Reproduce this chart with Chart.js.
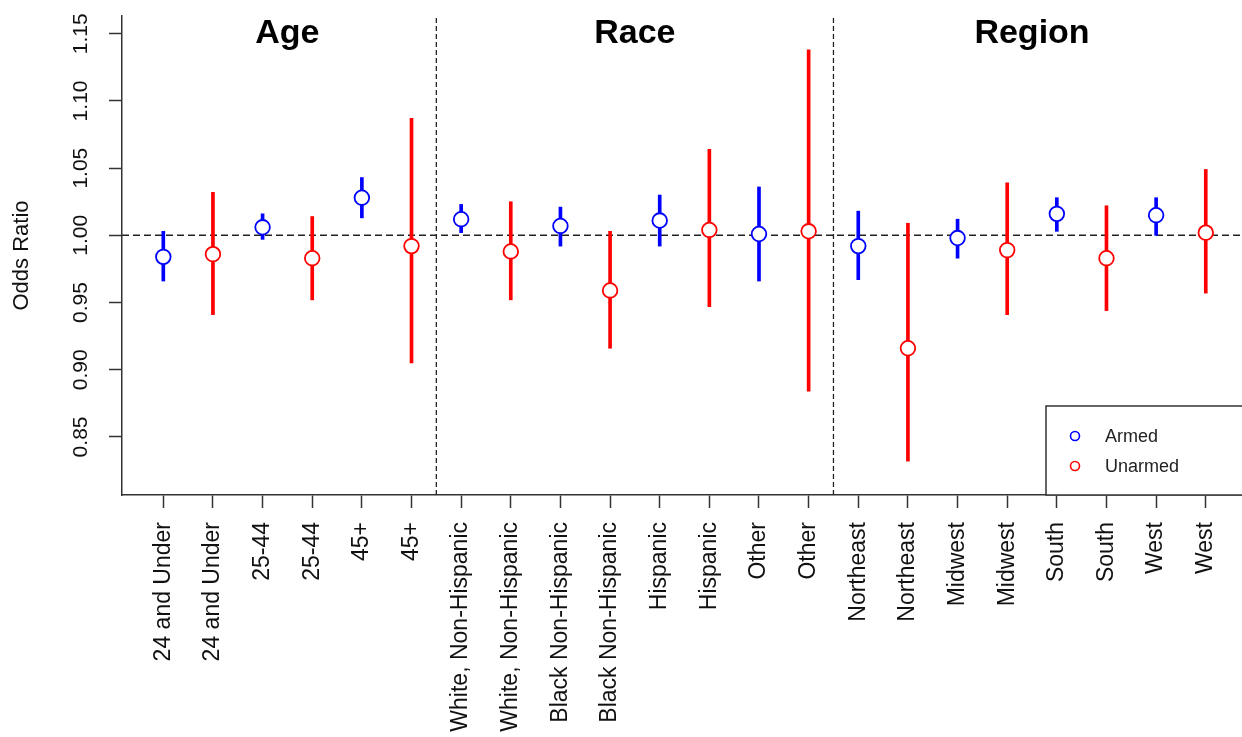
<!DOCTYPE html>
<html>
<head>
<meta charset="utf-8">
<script src="https://cdn.jsdelivr.net/npm/chart.js@4/dist/chart.umd.min.js"></script>
<style>
  html, body { margin: 0; padding: 0; background: #fff; }
  #wrap { width: 1242px; height: 737px; }
</style>
</head>
<body>
<div id="wrap"><canvas id="myChart" width="1242" height="737"></canvas></div>
<script>
// categories, one per x position (armed at odd, unarmed at even positions)
const xLabels = [
  "24 and Under", "24 and Under", "25-44", "25-44", "45+", "45+",
  "White, Non-Hispanic", "White, Non-Hispanic", "Black Non-Hispanic", "Black Non-Hispanic",
  "Hispanic", "Hispanic", "Other", "Other",
  "Northeast", "Northeast", "Midwest", "Midwest", "South", "South", "West", "West"
];
const groupNames = ["Age", "Race", "Region"];
const groupCenters = [3.5, 10.5, 18.5];
const groupBreaks = [6.5, 14.5];

const armedMid = [0.984, 1.006, 1.028, 1.012, 1.007, 1.011, 1.001, 0.992, 0.998, 1.016, 1.015];
const armedLow = [0.966, 0.997, 1.013, 1.002, 0.992, 0.992, 0.966, 0.967, 0.983, 1.003, 1.000];
const armedHigh = [1.003, 1.016, 1.043, 1.023, 1.021, 1.030, 1.036, 1.018, 1.012, 1.028, 1.028];

const unarmedMid = [0.986, 0.983, 0.992, 0.988, 0.959, 1.004, 1.003, 0.916, 0.989, 0.983, 1.002];
const unarmedLow = [0.941, 0.952, 0.905, 0.952, 0.916, 0.947, 0.884, 0.832, 0.941, 0.944, 0.957];
const unarmedHigh = [1.032, 1.014, 1.087, 1.025, 1.003, 1.064, 1.138, 1.009, 1.039, 1.022, 1.049];

const yTicks = [0.85, 0.90, 0.95, 1.00, 1.05, 1.10, 1.15];
const refValue = 1.0;

const X_MIN = 0.168, X_MAX = 22.73;
const Y_MIN = 0.8068, Y_MAX = 1.1632;
const BLUE = "#0000ff", RED = "#ff0000";
const FONT = "'Liberation Sans', Arial, Helvetica, sans-serif";

function points(mid, offset) {
  return mid.map((v, i) => ({ x: i * 2 + offset, y: v }));
}
function bars(low, high, offset) {
  return low.map((v, i) => ({ x: i * 2 + offset, y: [v, high[i]] }));
}

const overlay = {
  id: "overlay",
  afterDraw(chart) {
    const ctx = chart.ctx;
    const xs = chart.scales.x;
    const area = chart.chartArea;
    ctx.save();
    // panel titles
    ctx.fillStyle = "#000";
    ctx.font = "bold 34px " + FONT;
    ctx.textAlign = "center";
    ctx.textBaseline = "alphabetic";
    groupNames.forEach((g, i) => {
      ctx.fillText(g, xs.getPixelForValue(groupCenters[i]), 43);
    });
    // legend box
    const lx = 1046, ly = area.bottom - 89;
    ctx.fillStyle = "#fff";
    ctx.fillRect(lx, ly, 210, 89);
    ctx.strokeStyle = "#333";
    ctx.lineWidth = 1.5;
    ctx.strokeRect(lx, ly, 210, 89);
    const items = [["Armed", BLUE], ["Unarmed", RED]];
    ctx.font = "18px " + FONT;
    ctx.textAlign = "left";
    ctx.textBaseline = "middle";
    items.forEach(([label, col], i) => {
      const cy = ly + 30 + i * 30;
      ctx.beginPath();
      ctx.arc(lx + 29, cy, 4.5, 0, Math.PI * 2);
      ctx.strokeStyle = col;
      ctx.lineWidth = 1.6;
      ctx.stroke();
      ctx.fillStyle = "#222";
      ctx.fillText(label, lx + 59, cy + 1);
    });
    ctx.restore();
  }
};

function renderChart(ctx) {
  const dashed = {
    type: "line", borderColor: "#222", borderWidth: 1.5, borderDash: [7, 4],
    pointRadius: 0, fill: false, order: 3
  };
  new Chart(ctx, {
    type: "scatter",
    data: {
      datasets: [
        { ...dashed, data: [{ x: X_MIN, y: refValue }, { x: X_MAX, y: refValue }] },
        ...groupBreaks.map((b) => ({
          ...dashed, borderWidth: 1.3, borderDash: [5, 3],
          data: [{ x: b, y: Y_MIN }, { x: b, y: Y_MAX }]
        })),
        { type: "bar", data: bars(armedLow, armedHigh, 1), backgroundColor: BLUE,
          barThickness: 3, grouped: false, borderWidth: 0, order: 2 },
        { type: "bar", data: bars(unarmedLow, unarmedHigh, 2), backgroundColor: RED,
          barThickness: 3, grouped: false, borderWidth: 0, order: 2 },
        { label: "Armed", data: points(armedMid, 1), pointRadius: 7.3, pointBorderWidth: 1.8,
          pointBorderColor: BLUE, pointBackgroundColor: "#fff", order: 1 },
        { label: "Unarmed", data: points(unarmedMid, 2), pointRadius: 7.3, pointBorderWidth: 1.8,
          pointBorderColor: RED, pointBackgroundColor: "#fff", order: 1 }
      ]
    },
    options: {
      responsive: false,
      animation: false,
      devicePixelRatio: 1,
      layout: { padding: { top: 16, left: 0, right: 0, bottom: 0 } },
      plugins: { legend: { display: false }, tooltip: { enabled: false } },
      scales: {
        x: {
          type: "linear", min: X_MIN, max: X_MAX, offset: false,
          afterBuildTicks: (s) => { s.ticks = xLabels.map((_, i) => ({ value: i + 1 })); },
          afterFit: (s) => { s.height = 242; s.paddingLeft = 0; s.paddingRight = 0; },
          ticks: {
            autoSkip: false, minRotation: 90, maxRotation: 90, padding: 14,
            color: "#111", font: { family: FONT, size: 23 },
            callback: (v) => xLabels[Math.round(v) - 1]
          },
          grid: { offset: false, drawOnChartArea: false, tickLength: 13, tickColor: "#333", tickWidth: 1.5 },
          border: { display: true, color: "#333", width: 1.5 }
        },
        y: {
          type: "linear", min: Y_MIN, max: Y_MAX,
          afterBuildTicks: (s) => { s.ticks = yTicks.map((v) => ({ value: v })); },
          afterFit: (s) => { s.width = 122; s.paddingTop = 0; s.paddingBottom = 0; },
          ticks: {
            minRotation: 90, maxRotation: 90, crossAlign: "center", padding: 7,
            color: "#111", font: { family: FONT, size: 21 },
            callback: (v) => v.toFixed(2)
          },
          grid: { drawOnChartArea: false, tickLength: 13, tickColor: "#333", tickWidth: 1.5 },
          border: { display: true, color: "#333", width: 1.5 },
          title: {
            display: true, text: "Odds Ratio", color: "#111",
            font: { family: FONT, size: 22 }, padding: { top: 9, bottom: 0 }
          }
        }
      }
    },
    plugins: [overlay, {
      id: "fullWidth",
      afterLayout(chart) {
        // let the plot area run to the right edge, as in the original
        const xs = chart.scales.x;
        xs.right = chart.width;
        xs.width = xs.right - xs.left;
        chart.chartArea.right = chart.width;
        chart.chartArea.width = chart.width - chart.chartArea.left;
        xs.configure();
      }
    }]
  });
}

function setup() {
  const ctx = document.getElementById("myChart").getContext("2d");
  renderChart(ctx);
}

window.addEventListener("load", setup);
</script>
</body>
</html>
